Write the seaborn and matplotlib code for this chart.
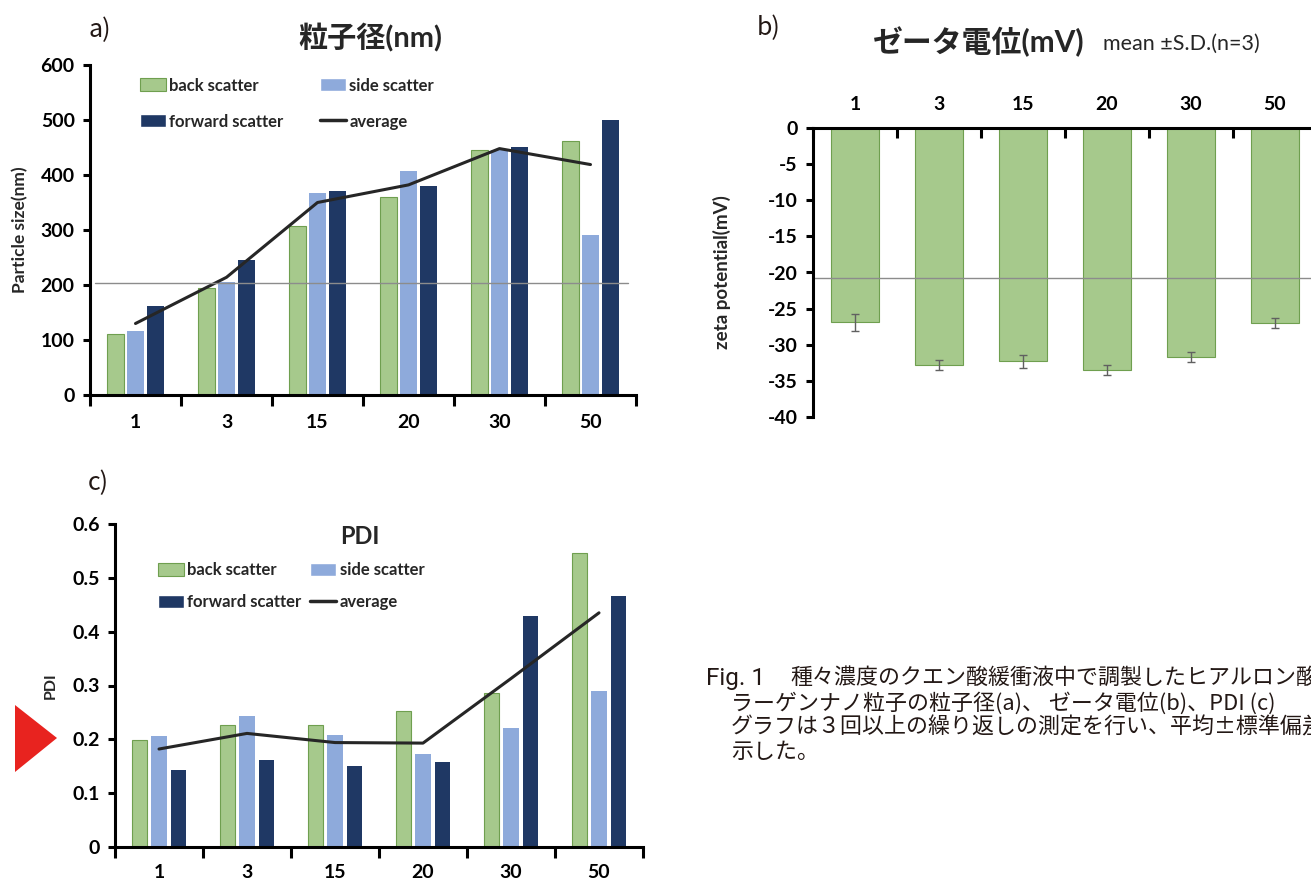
import numpy as np
import pandas as pd
import matplotlib
matplotlib.use('Agg')
import matplotlib.pyplot as plt
import seaborn as sns
from matplotlib.patches import Patch, Polygon
from matplotlib.lines import Line2D

## data
conc = ['1', '3', '15', '20', '30', '50']
series = ['back scatter', 'side scatter', 'forward scatter']

# a) particle size (nm)
size_back = [111, 194, 307, 360, 446, 461]
size_side = [116, 205, 367, 407, 445, 291]
size_fwd = [161, 245, 370, 380, 451, 500]
size_avg = [130, 214, 350, 382, 448, 419]
size_ticks = [0, 100, 200, 300, 400, 500, 600]

# b) zeta potential (mV), mean +- SD
zeta_mean = [-26.9, -32.8, -32.3, -33.5, -31.7, -27.0]
zeta_sd = [1.2, 0.7, 0.85, 0.75, 0.7, 0.7]
zeta_ticks = [0, -5, -10, -15, -20, -25, -30, -35, -40]

# c) PDI
pdi_back = [0.198, 0.226, 0.226, 0.252, 0.286, 0.546]
pdi_side = [0.206, 0.243, 0.208, 0.172, 0.221, 0.290]
pdi_fwd = [0.143, 0.162, 0.150, 0.157, 0.429, 0.467]
pdi_avg = [0.182, 0.211, 0.194, 0.193, 0.313, 0.435]
pdi_ticks = [0, 0.1, 0.2, 0.3, 0.4, 0.5, 0.6]
pdi_ticklabels = ['0', '0.1', '0.2', '0.3', '0.4', '0.5', '0.6']

caption_head = 'Fig. 1'
caption = ['種々濃度のクエン酸緩衝液中で調製したヒアルロン酸',
           'ラーゲンナノ粒子の粒子径(a)、 ゼータ電位(b)、PDI (c)',
           'グラフは３回以上の繰り返しの測定を行い、平均±標準偏差',
           '示した。']

#%%
green = '#a6c98c'
green_edge = '#6f9f4f'
light_blue = '#8eaadb'
navy = '#1f3864'
line_col = '#262626'
palette = {'back scatter': green, 'side scatter': light_blue, 'forward scatter': navy}
jp = ['Noto Sans CJK JP', 'DejaVu Sans']

sns.set_theme(style='white')
plt.rcParams['font.family'] = ['Lato', 'Noto Sans CJK JP', 'DejaVu Sans']
plt.rcParams['font.weight'] = 'bold'
plt.rcParams['axes.unicode_minus'] = False

W, H = 1311, 883
fig = plt.figure(figsize=(W / 100, H / 100), dpi=100)
fig.patch.set_facecolor('white')


def px_axes(x0, y0, x1, y1):
    return fig.add_axes([x0 / W, 1 - y1 / H, (x1 - x0) / W, (y1 - y0) / H])


def ftext(x, y, s, **kw):
    fig.text(x / W, 1 - y / H, s, **kw)


def bold_ticks(ax):
    for lab in ax.get_xticklabels(minor=True) + ax.get_yticklabels():
        lab.set_fontweight('bold')
        lab.set_color('black')


def cat_axis(ax, pad):
    ax.set_xlim(-0.5, 5.5)
    ax.set_xticks(np.arange(-0.5, 6, 1))
    ax.set_xticklabels([])
    ax.set_xticks(np.arange(6), labels=conc, minor=True)
    ax.tick_params(axis='x', which='major', direction='out', length=8, width=2.2,
                   color='black', bottom=True)
    ax.tick_params(axis='x', which='minor', length=0, pad=pad, labelsize=14,
                   bottom=True)
    ax.tick_params(axis='y', direction='out', length=5, width=2.2, color='black',
                   left=True, pad=6, labelsize=14)
    for s in ['top', 'right']:
        ax.spines[s].set_visible(False)
    for s in ['left', 'bottom']:
        ax.spines[s].set_color('black')
        ax.spines[s].set_linewidth(2.2)
    ax.set_xlabel('')
    bold_ticks(ax)


def grouped(ax, back, side, fwd, width, gap):
    df = pd.DataFrame({'conc': conc * 3,
                       'series': np.repeat(series, 6),
                       'value': back + side + fwd})
    sns.barplot(data=df, x='conc', y='value', hue='series', order=conc,
                hue_order=series, palette=palette, width=width, gap=gap,
                saturation=1, errorbar=None, edgecolor='none', linewidth=0,
                legend=False, ax=ax)
    for bar in ax.containers[0]:
        bar.set_edgecolor(green_edge)
        bar.set_linewidth(0.8)


def scatter_legend(ax, anchor, labelspacing, columnspacing):
    handles = [Patch(facecolor=green, edgecolor=green_edge, linewidth=0.8),
               Patch(facecolor=navy),
               Patch(facecolor=light_blue),
               Line2D([], [], color=line_col, lw=2.5)]
    labels = ['back scatter', 'forward scatter', 'side scatter', 'average']
    leg = ax.legend(handles, labels, ncol=2, loc='upper left', bbox_to_anchor=anchor,
                    frameon=False, fontsize=12, handlelength=1.55, handleheight=0.85,
                    handletextpad=0.2, labelspacing=labelspacing,
                    columnspacing=columnspacing, borderaxespad=0, borderpad=0)
    for t in leg.get_texts():
        t.set_fontweight('bold')


#%%
## a) 粒子径
ax_a = px_axes(90, 65, 636, 395)
grouped(ax_a, size_back, size_side, size_fwd, 0.66, 0.14)
ax_a.plot(np.arange(6), size_avg, color=line_col, lw=2.2)
ax_a.axhline(204, xmin=0.01, xmax=0.985, color='#8c8c8c', lw=1)
ax_a.set_ylim(0, 600)
ax_a.set_yticks(size_ticks)
cat_axis(ax_a, pad=14)
ax_a.set_ylabel('Particle size(nm)', fontsize=12.5, fontweight='bold')
ax_a.yaxis.set_label_coords(-0.113, 0.5)
scatter_legend(ax_a, (0.0916, 0.962), 1.2, 2.2)

#%%
## b) ゼータ電位
ax_b = px_axes(813, 128, 1317, 417)
sns.barplot(x=conc, y=zeta_mean, color=green, width=0.58, saturation=1,
            edgecolor=green_edge, linewidth=0.8, ax=ax_b)
ax_b.errorbar(np.arange(6), zeta_mean, yerr=zeta_sd, fmt='none',
              ecolor='#606060', elinewidth=1, capsize=3, capthick=1)
ax_b.axhline(-20.8, color='#8c8c8c', lw=1)
ax_b.set_ylim(-40, 0)
ax_b.set_yticks(zeta_ticks)
ax_b.set_xlim(-0.5, 5.5)
ax_b.xaxis.tick_top()
ax_b.set_xticks(np.arange(-0.5, 6, 1))
ax_b.set_xticklabels([])
ax_b.set_xticks(np.arange(6), labels=conc, minor=True)
ax_b.tick_params(axis='x', which='major', direction='in', length=7, width=2.2,
                 color='black', top=True, bottom=False)
ax_b.tick_params(axis='x', which='minor', length=0, pad=11, labelsize=14,
                 top=True, bottom=False, labeltop=True, labelbottom=False)
ax_b.tick_params(axis='y', direction='out', length=5, width=2.2, color='black',
                 left=True, pad=6, labelsize=14)
for s in ['bottom', 'right']:
    ax_b.spines[s].set_visible(False)
for s in ['left', 'top']:
    ax_b.spines[s].set_color('black')
    ax_b.spines[s].set_linewidth(2.2)
ax_b.set_xlabel('')
bold_ticks(ax_b)
ax_b.set_ylabel('zeta potential(mV)', fontsize=13.5, fontweight='bold')
ax_b.yaxis.set_label_coords(-0.163, 0.5)

#%%
## c) PDI
ax_c = px_axes(115, 524, 643, 847)
grouped(ax_c, pdi_back, pdi_side, pdi_fwd, 0.67, 0.21)
ax_c.plot(np.arange(6), pdi_avg, color=line_col, lw=2.2)
ax_c.set_ylim(0, 0.6)
ax_c.set_yticks(pdi_ticks, labels=pdi_ticklabels)
cat_axis(ax_c, pad=12)
ax_c.set_ylabel('PDI', fontsize=11.5, fontweight='bold')
ax_c.yaxis.set_label_coords(-0.108, 0.5)
scatter_legend(ax_c, (0.081, 0.882), 0.95, 0.55)

#%%
## titles, panel letters, caption, marker
ftext(370, 38, '粒子径(nm)', fontsize=21, fontweight='bold', ha='center', va='center')
ftext(873, 42, 'ゼータ電位(mV)', fontsize=21.5, fontweight='bold', ha='left', va='center')
ftext(1103, 44, 'mean ±S.D.(n=3)', fontsize=15.5, fontweight='normal', ha='left', va='center')
ftext(360, 537, 'PDI', fontsize=17, fontweight='bold', ha='center', va='center')

for x, y, s in [(88, 30, 'a)'), (757, 28, 'b)'), (88, 483, 'c)')]:
    ftext(x, y, s, fontsize=18, fontweight='normal', ha='left', va='center',
          family=jp, color='#231815')

cap_y = [678, 703, 727, 752]
cap_x = [790, 731, 731, 731]
ftext(706, cap_y[0], caption_head, fontsize=17.5, fontweight='normal', ha='left',
      va='center', family=['Roboto', 'DejaVu Sans'], color='#231815')
for x, y, s in zip(cap_x, cap_y, caption):
    ftext(x, y, s, fontsize=15.8, fontweight='normal', ha='left', va='center',
          family=jp, color='#231815')

tri = Polygon([(15 / W, 1 - 705 / H), (15 / W, 1 - 772 / H), (57 / W, 1 - 738 / H)],
              closed=True, transform=fig.transFigure, facecolor='#e8231f',
              edgecolor='none')
fig.patches.append(tri)

fig.savefig('out.png', dpi=100, facecolor='white')
